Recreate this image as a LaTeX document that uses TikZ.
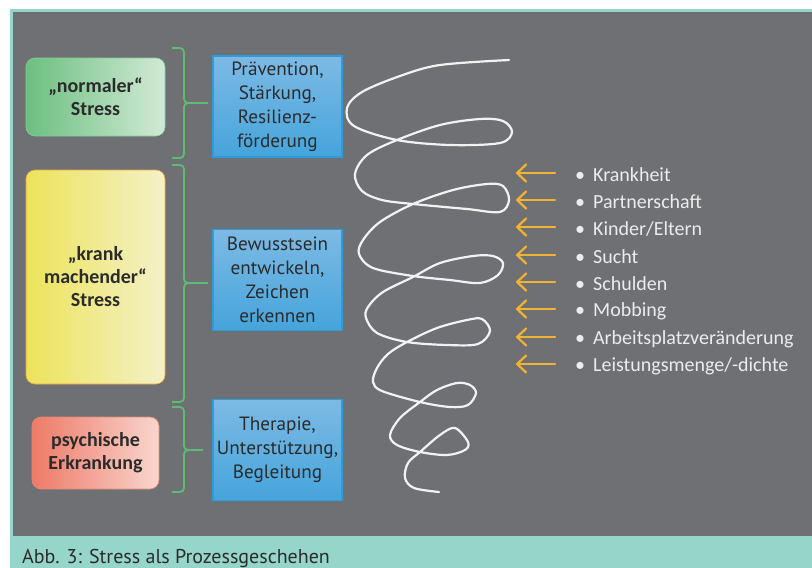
\documentclass[tikz,border=0pt]{standalone}
\usepackage{fontspec}
\setmainfont{Carlito}
\newfontfamily\ptsans{PT Sans}
\usetikzlibrary{arrows.meta}
\definecolor{bggray}{HTML}{6E7073}
\definecolor{tealband}{HTML}{96D5C9}
\definecolor{bracegreen}{HTML}{5DBB73}
\definecolor{bluetop}{HTML}{7DBAE5}
\definecolor{bluebot}{HTML}{45A4DB}
\definecolor{blueline}{HTML}{2E9BDA}
\definecolor{darktext}{HTML}{2B2B2B}
\definecolor{greenL}{HTML}{6CBF80}
\definecolor{greenR}{HTML}{D2EAD6}
\definecolor{yellowL}{HTML}{ECE35A}
\definecolor{yellowR}{HTML}{F4F1C8}
\definecolor{yellowline}{HTML}{E9A73F}
\definecolor{redL}{HTML}{EE7A68}
\definecolor{redR}{HTML}{F8D6CE}
\definecolor{redline}{HTML}{E58A70}
\definecolor{arroworange}{HTML}{F2B233}
\definecolor{listtext}{HTML}{ECECEC}
\definecolor{spiral}{HTML}{F2F2F2}
\begin{document}
\begin{tikzpicture}[x=1pt,y=-1pt,
  statebox/.style={rounded corners=9pt, draw=#1, line width=0.6pt, inner sep=0pt,
    font=\fontsize{20}{23}\selectfont\bfseries, text=darktext, align=center},
  actionbox/.style={draw=blueline, line width=1.2pt, top color=bluetop, bottom color=bluebot,
    minimum width=129pt, minimum height=101pt, inner sep=0pt,
    font=\ptsans\fontsize{19.2}{24}\selectfont, text=darktext, align=center},
  bracepath/.style={draw=bracegreen, line width=1.8pt, rounded corners=4pt},
  listitem/.style={anchor=west, inner sep=0pt, text=listtext, font=\fontsize{20}{22}\selectfont},
  pusharrow/.style={draw=arroworange, line width=2.2pt, line cap=round,
    -{Straight Barb[length=9pt,width=17pt,line width=2.2pt,round]}}
]
\useasboundingbox (0,0) rectangle (812,568);
\fill[white] (0,0) rectangle (812,568);
\fill[tealband] (10,9) rectangle (812,568);
\fill[bggray] (13,12) rectangle (812,536);

% left state boxes
\node[statebox=greenL!80!white, left color=greenL, right color=greenR,
  minimum width=139pt, minimum height=78pt] (normal) at (95.5,97) {„normaler“\\Stress};
\node[statebox=yellowline, left color=yellowL, right color=yellowR,
  minimum width=139pt, minimum height=214pt] (krank) at (95.5,277) {„krank\\machender“\\Stress};
\node[statebox=redline, left color=redL, right color=redR,
  minimum width=127pt, minimum height=72pt] (psych) at (95.5,453) {psychische\\Erkrankung};

% action boxes
\node[actionbox] (praev) at (277.5,106.5) {Prävention,\\Stärkung,\\Resilienz-\\förderung};
\node[actionbox] (bewusst) at (277.5,280) {Bewusstsein\\entwickeln,\\Zeichen\\erkennen};
\node[actionbox] (thera) at (277.5,450) {Therapie,\\Unterstützung,\\Begleitung};

% braces
\draw[bracepath] (172,48) -- (184,48) -- (184,103) -- (208,103);
\draw[bracepath] (208,103) -- (184,103) -- (184,158) -- (172,158);
\draw[bracepath] (172,165) -- (184,165) -- (184,283) -- (208,283);
\draw[bracepath] (208,283) -- (184,283) -- (184,402) -- (172,402);
\draw[bracepath] (172,407) -- (184,407) -- (184,450) -- (203,450);
\draw[bracepath] (203,450) -- (184,450) -- (184,492) -- (172,492);

% spiral
\draw[spiral, line width=2.2pt, line cap=round, line join=round]
  plot[smooth, tension=0.55] coordinates {
  (509,60) (440,65) (400,76) (362,92) (347,108) (354,126) (397,140) (450,145) (500,143)
  (512,132) (503,121) (480,119) (440,125) (397,140) (367,155) (355,174) (362,191) (382,200)
  (413,204) (467,209) (500,212) (509,200) (503,186) (487,184) (453,190) (413,204) (380,222)
  (363,240) (359,254) (373,268) (413,276) (450,280) (480,283) (498,275) (503,263) (493,256)
  (473,256) (440,263) (413,277) (383,292) (368,307) (366,318) (377,333) (407,342) (447,345)
  (478,344) (490,331) (482,319) (467,320) (437,328) (407,342) (388,354) (377,368) (373,382)
  (382,391) (420,402) (450,407) (468,405) (476,393) (470,385) (457,383) (437,390) (420,402)
  (400,418) (390,435) (397,445) (420,452) (447,455) (465,450) (468,442) (455,428) (440,435)
  (420,452) (408,463) (405,478) (414,488) (439,492)};

% list items
\foreach \name/\yy/\txt in {k1/175/Krankheit, k2/202/Partnerschaft, k3/229/Kinder\slash Eltern,
  k4/257/Sucht, k5/284/Schulden, k6/311/Mobbing, k7/339/Arbeitsplatzveränderung,
  k8/366/Leistungsmenge\slash -dichte}{
  \node[listitem] (\name) at (575,\yy) {•\hspace{8pt}\txt};
  \coordinate (\name s) at (555,\yy-2);
  \coordinate (\name e) at (516,\yy-2);
  \draw[pusharrow] (\name s) -- (\name e);
}

% caption
\node[anchor=base west, inner sep=0pt, text=darktext, font=\ptsans\fontsize{20}{22}\selectfont]
  (cap) at (22,563) {Abb. 3: Stress als Prozessgeschehen};
\end{tikzpicture}
\end{document}
